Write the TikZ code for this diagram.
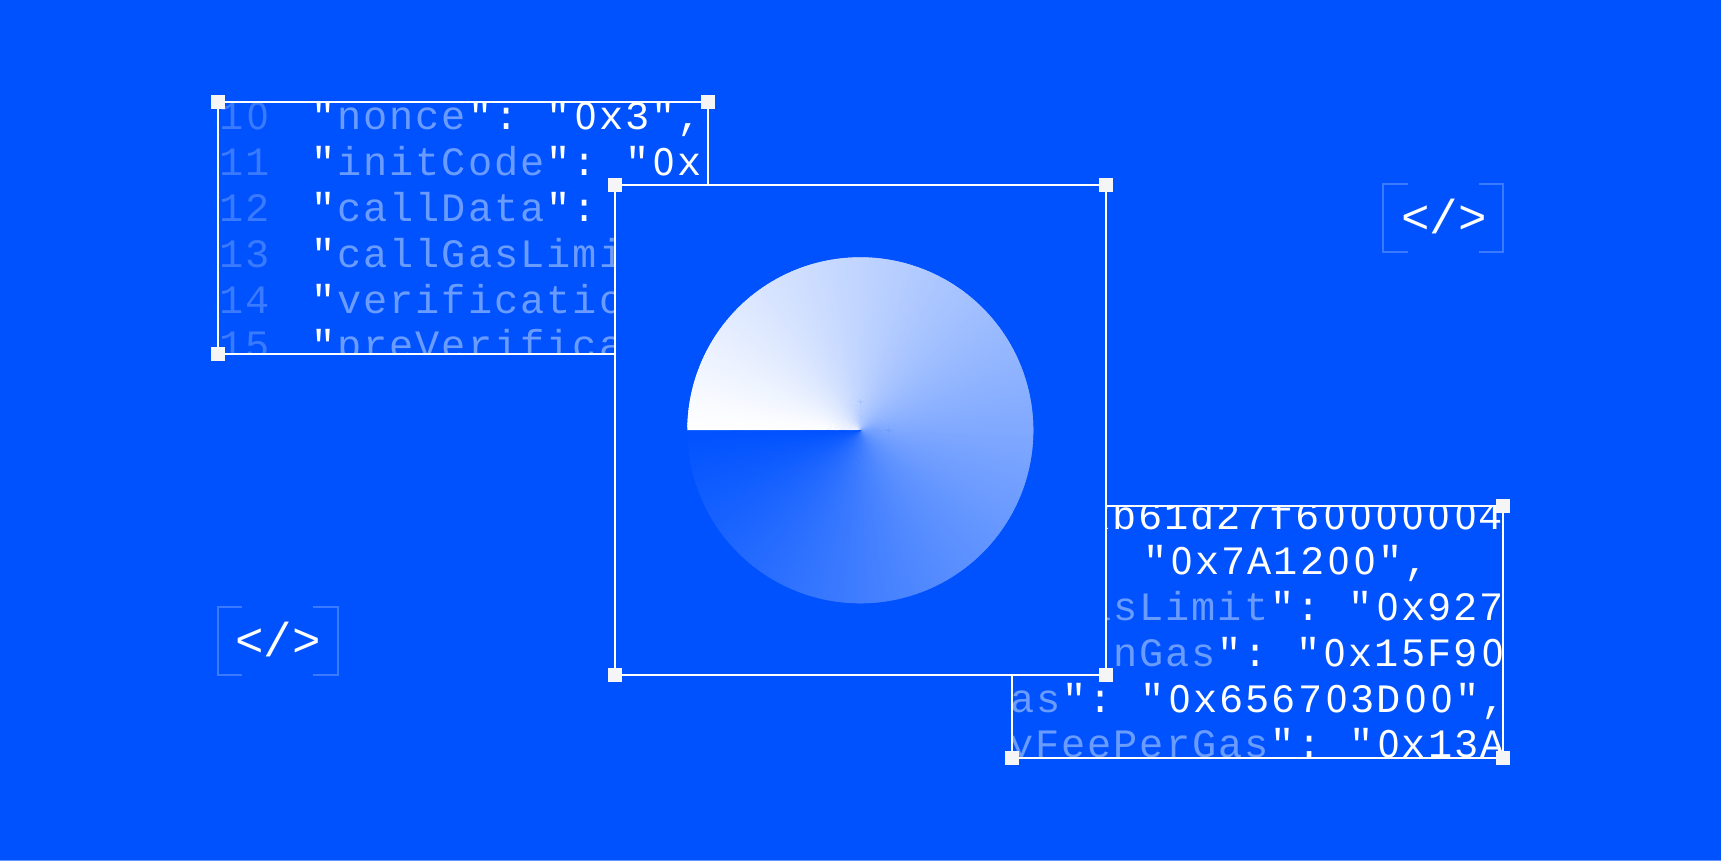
\documentclass[tikz,border=0pt]{standalone}
\usepackage{fontspec}
\setmonofont[LetterSpace=5]{Liberation Mono}
\newfontfamily\tagfont{Liberation Mono}
\newfontfamily\plainzero{TeX Gyre Heros}
\usetikzlibrary{calc}
\definecolor{bgblue}{RGB}{0,82,255}
\definecolor{keyblue}{RGB}{106,156,255}
\definecolor{numblue}{RGB}{58,122,255}
\definecolor{handle}{RGB}{245,245,245}
\definecolor{edgeblue}{RGB}{100,150,255}
\newcommand\zz{\makebox[26.2pt]{\plainzero\fontsize{38.5}{40}\selectfont 0}}
\newcommand\yz{\kern2pt\zz}
\newcommand\kk[1]{\kern2pt\textcolor{keyblue}{#1}\kern2pt}
\tikzset{
  x=1pt,y=-1pt,
  frame/.style={draw=white,line width=2.9pt},
  grip/.style={fill=handle,draw=none,minimum size=14pt,inner sep=0pt,outer sep=0pt,rectangle},
  code/.style={anchor=base west,inner sep=0pt,outer sep=0pt,text=white,font=\ttfamily\frenchspacing\spaceskip 28.2pt\relax\fontsize{40.3}{44}\selectfont},
  num/.style={code,text=numblue},
  tagtext/.style={anchor=center,inner sep=0pt,text=white,font=\tagfont\fontsize{47.5}{50}\selectfont},
  bracket/.style={draw=numblue,line width=2.9pt},
}
\begin{document}
\begin{tikzpicture}
\useasboundingbox (0,0) rectangle (1721,861);
\fill[bgblue] (0,0) rectangle (1721,861);
\fill[edgeblue] (0,860) rectangle (1721,861);

% left code panel
\coordinate (lTL) at (218,102);
\coordinate (lTR) at (708,102);
\coordinate (lBL) at (218,354);
\coordinate (lBR) at (708,354);
\begin{scope}
\clip (lTL) rectangle (lBR);
\node[num] (n10) at (219,130) {1\yz};
\node[num] (n11) at (219,176) {11};
\node[num] (n12) at (219,222) {12};
\node[num] (n13) at (219,267.5) {13};
\node[num] (n14) at (219,313) {14};
\node[num] (n15) at (219,358.5) {15};
\node[code] (l1) at (311,130) {"\kk{nonce}": "\yz x3",};
\node[code] (l2) at (311,176) {"\kk{initCode}": "\yz x};
\node[code] (l3) at (311,222) {"\kk{callData}":};
\node[code] (l4) at (311,267.5) {"\kk{callGasLimi}};
\node[code] (l5) at (311,313) {"\kk{verificatio}};
\node[code] (l6) at (311,358.5) {"\kk{preVerifica}};
\end{scope}
\draw[frame] (lTL) -- (lTR) -- (lBR) -- (lBL) -- cycle;

% right code panel
\coordinate (rTL) at (1012,506);
\coordinate (rTR) at (1503,506);
\coordinate (rBL) at (1012,758);
\coordinate (rBR) at (1503,758);
\begin{scope}
\clip (rTL) rectangle (rBR);
\node[code] (r1) at (1086,529) {xb61d27f6\yz\zz\zz\zz\zz\zz 4};
\node[code] (r2) at (1143,574) {"\yz x7A12\yz\zz",};
\node[code] (r3) at (1085,620) {\kk{asLimit}": "\yz x927};
\node[code] (r4) at (1111,666) {\kk{nGas}": "\yz x15F9\yz};
\node[code] (r5) at (1008,712) {\kk{as}": "\yz x6567\yz3D\yz\zz",};
\node[code] (r6) at (1007,757) {\kk{yFeePerGas}": "\yz x13A};
\end{scope}
\draw[frame] (rTL) -- (rTR) -- (rBR) -- (rBL) -- cycle;

% central square
\coordinate (cTL) at (615,185);
\coordinate (cTR) at (1106,185);
\coordinate (cBL) at (615,675);
\coordinate (cBR) at (1106,675);
\fill[bgblue] (cTL) rectangle (cBR);
\draw[frame] (cTL) -- (cTR) -- (cBR) -- (cBL) -- cycle;

% conic disc, clockwise from the west
\coordinate (disc) at (860.3,430.3);
\foreach \i in {0,...,359}{
  \pgfmathsetmacro\t{100*(1-\i/360)}
  \pgfmathsetmacro\a{min(\i+1.8,360)}
  \fill[white!\t!bgblue] (disc) -- ($(disc)+({-173*cos(\i)},{-173*sin(\i)})$)
     arc[start angle=180+\i, end angle=180+\a, radius=173] -- cycle;
}

% grips
\foreach \p in {lTL,lTR,lBL,cTL,cTR,cBL,cBR,rTR,rBL,rBR}{
  \node[grip] at (\p) {};
}

% tags
\draw[bracket] (1408,184) -| (1383,252) -- (1408,252);
\draw[bracket] (1479,184) -| (1503,252) -- (1479,252);
\node[tagtext] (tag1) at (1444,217) {</>};
\draw[bracket] (242,607) -| (218,675) -- (242,675);
\draw[bracket] (313,607) -| (338,675) -- (313,675);
\node[tagtext] (tag2) at (278,640) {</>};
\end{tikzpicture}
\end{document}
